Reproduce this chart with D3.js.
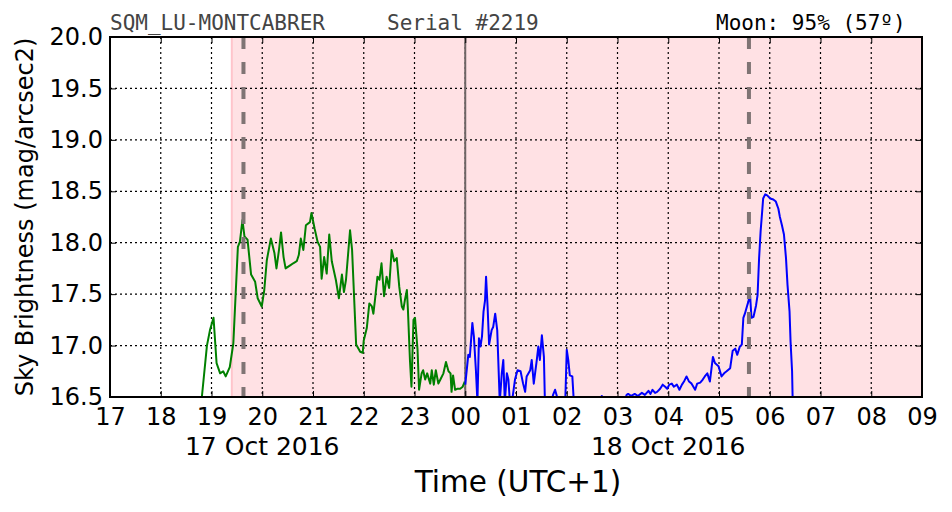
<!DOCTYPE html>
<html>
<head>
<meta charset="utf-8">
<script src="https://cdn.jsdelivr.net/npm/d3@7"></script>
<style>
  body { margin: 0; background: #fff; }
  svg { display: block; font-family: "DejaVu Sans", sans-serif; }
</style>
</head>
<body>
<div id="chart"></div>
<script>
// time is hours since 00:00 on 17 Oct 2016 (so 24.5 = 00:30 on 18 Oct)
var greenTime = [18.81, 18.91, 18.97, 19.04, 19.10, 19.17, 19.23, 19.28, 19.36, 19.43, 19.52, 19.56, 19.61, 19.65, 19.71, 19.78, 19.86, 19.91, 19.99,
  20.04, 20.09, 20.12, 20.17, 20.24, 20.28, 20.33, 20.37, 20.42, 20.46, 20.55, 20.61, 20.68, 20.72, 20.76, 20.81, 20.86, 20.94, 20.97,
  21.03, 21.09, 21.14, 21.17, 21.22, 21.27, 21.32, 21.37, 21.45, 21.51, 21.57, 21.61, 21.65, 21.73, 21.77, 21.85, 21.93, 21.98,
  22.00, 22.06, 22.11, 22.16, 22.19, 22.22, 22.27, 22.31, 22.35, 22.40, 22.45, 22.50, 22.55, 22.60, 22.65, 22.70, 22.75, 22.78, 22.81, 22.85, 22.87, 22.91, 22.94, 22.98,
  23.01, 23.06, 23.09, 23.14, 23.17, 23.21, 23.25, 23.31, 23.34, 23.38, 23.42, 23.47, 23.52, 23.57, 23.62, 23.67, 23.71, 23.73, 23.76, 23.80, 23.84, 23.90, 23.95, 23.99];
var greenMag = [16.50, 17.00, 17.15, 17.27, 16.83, 16.73, 16.75, 16.70, 16.79, 17.02, 17.96, 18.01, 18.22, 18.06, 18.03, 17.69, 17.62, 17.46, 17.38,
  17.54, 17.83, 17.91, 18.04, 17.90, 17.75, 17.93, 18.10, 17.86, 17.75, 17.78, 17.80, 17.82, 17.88, 18.04, 17.93, 18.17, 18.20, 18.29,
  18.14, 18.01, 17.96, 17.65, 17.86, 17.70, 18.08, 17.82, 17.64, 17.46, 17.69, 17.52, 17.64, 18.12, 17.93, 17.01, 16.94, 16.93,
  17.05, 17.17, 17.41, 17.38, 17.31, 17.44, 17.67, 17.64, 17.80, 17.48, 17.67, 17.56, 17.93, 17.82, 17.85, 17.57, 17.38, 17.35, 17.44, 17.54, 17.35, 16.86, 16.60, 17.25,
  17.27, 16.96, 16.57, 16.73, 16.76, 16.67, 16.73, 16.63, 16.76, 16.62, 16.76, 16.63, 16.68, 16.73, 16.84, 16.75, 16.73, 16.55, 16.71, 16.57, 16.58, 16.58, 16.60, 16.65];

var blueTime = [24.00, 24.06, 24.09, 24.14, 24.17, 24.21, 24.24, 24.27, 24.30, 24.33, 24.36, 24.39, 24.41, 24.44, 24.47, 24.52, 24.55, 24.59, 24.63,
  24.68, 24.72, 24.75, 24.78, 24.82, 24.85, 24.88, 24.92, 24.98, 25.03, 25.09, 25.14, 25.18, 25.21, 25.28, 25.31, 25.35, 25.41, 25.44, 25.47, 25.51, 25.55, 25.57,
  25.67, 25.73, 25.77, 25.81, 25.87, 25.97, 26.00, 26.03, 26.06, 26.11, 26.14, 26.36, 26.62, 26.69, 26.75, 26.95,
  27.15, 27.18, 27.21, 27.27, 27.34, 27.40, 27.48, 27.54, 27.61, 27.65, 27.69, 27.74, 27.78, 27.84, 27.89, 27.94, 27.98,
  28.02, 28.07, 28.11, 28.17, 28.22, 28.27, 28.31, 28.36, 28.41, 28.46, 28.53, 28.57, 28.63, 28.68, 28.72, 28.77, 28.82, 28.88, 28.92, 28.99,
  29.05, 29.10, 29.15, 29.22, 29.27, 29.32, 29.36, 29.41, 29.45, 29.48, 29.51, 29.55, 29.58, 29.61, 29.64, 29.68, 29.73, 29.76, 29.79, 29.82, 29.85, 29.87, 29.91, 29.95,
  30.01, 30.07, 30.12, 30.17, 30.20, 30.24, 30.28, 30.32, 30.35, 30.39, 30.41, 30.44, 30.45, 30.47];
var blueMag = [16.62, 16.91, 16.89, 17.22, 17.09, 16.76, 16.45, 17.07, 16.99, 17.09, 17.33, 17.44, 17.67, 17.38, 17.01, 17.15, 17.18, 17.31, 17.15,
  16.45, 16.73, 16.86, 16.45, 16.73, 16.67, 16.45, 16.45, 16.67, 16.76, 16.75, 16.63, 16.55, 16.70, 16.76, 16.86, 16.63, 16.86, 16.99, 16.86, 17.10, 16.89, 16.45,
  16.40, 16.52, 16.57, 16.50, 16.40, 16.45, 16.96, 16.86, 16.71, 16.70, 16.45, 16.35, 16.45, 16.51, 16.45, 16.40,
  16.48, 16.52, 16.53, 16.51, 16.53, 16.51, 16.54, 16.52, 16.56, 16.53, 16.57, 16.54, 16.55, 16.58, 16.62, 16.60, 16.58,
  16.62, 16.63, 16.60, 16.62, 16.57, 16.62, 16.65, 16.70, 16.65, 16.63, 16.57, 16.63, 16.64, 16.67, 16.70, 16.73, 16.65, 16.89, 16.83, 16.80,
  16.70, 16.73, 16.75, 16.78, 16.95, 16.97, 16.91, 16.99, 17.01, 17.27, 17.31, 17.38, 17.43, 17.51, 17.27, 17.28, 17.39, 17.49, 17.85, 18.11, 18.30, 18.43, 18.47, 18.46,
  18.43, 18.42, 18.40, 18.33, 18.25, 18.17, 18.08, 17.85, 17.59, 17.33, 17.04, 16.75, 16.51, 16.30];

var hourTicks = d3.range(17, 34);
var magTicks = [16.5, 17.0, 17.5, 18.0, 18.5, 19.0, 19.5, 20.0];
var dateLabels = [{ t: 20, label: "17 Oct 2016" }, { t: 28, label: "18 Oct 2016" }];
var nightStart = 19.40;          // start of shaded region
var moonLines = [19.63, 29.59];  // dashed markers
var midnight = 24;

var width = 952, height = 512;
var mLeft = 110, mRight = 922, mTop = 37, mBottom = 397;

var svg = d3.select("#chart").append("svg")
  .attr("width", width)
  .attr("height", height);

var x = d3.scaleLinear().domain([17, 33]).range([mLeft, mRight]);
var y = d3.scaleLinear().domain([16.5, 20]).range([mBottom, mTop]);

svg.append("clipPath").attr("id", "clip")
  .append("rect")
  .attr("x", mLeft).attr("y", mTop)
  .attr("width", mRight - mLeft).attr("height", mBottom - mTop);

// shaded night
svg.append("rect")
  .attr("x", x(nightStart))
  .attr("y", mTop)
  .attr("width", x(33) - x(nightStart))
  .attr("height", mBottom - mTop)
  .attr("fill", "#ffe1e4");
svg.append("line")
  .attr("x1", x(nightStart)).attr("x2", x(nightStart))
  .attr("y1", mTop).attr("y2", mBottom)
  .attr("stroke", "#ffc4cb")
  .attr("stroke-width", 2);

// grid
var grid = svg.append("g").attr("stroke", "#000").attr("stroke-width", 1.2).attr("stroke-dasharray", "2,3");
grid.selectAll(".gx").data(hourTicks.slice(1, -1)).enter().append("line")
  .attr("x1", function(d) { return x(d); })
  .attr("x2", function(d) { return x(d); })
  .attr("y1", mTop).attr("y2", mBottom);
grid.selectAll(".gy").data(magTicks.slice(1, -1)).enter().append("line")
  .attr("x1", mLeft).attr("x2", mRight)
  .attr("y1", function(d) { return y(d); })
  .attr("y2", function(d) { return y(d); });

// midnight
svg.append("line")
  .attr("x1", x(midnight)).attr("x2", x(midnight))
  .attr("y1", mTop).attr("y2", mBottom)
  .attr("stroke", "#6e6464")
  .attr("stroke-width", 2);

var line = d3.line()
  .x(function(d) { return x(d[0]); })
  .y(function(d) { return y(d[1]); });

var plot = svg.append("g").attr("clip-path", "url(#clip)");

plot.append("path")
  .datum(d3.zip(greenTime, greenMag))
  .attr("d", line)
  .attr("fill", "none")
  .attr("stroke", "#008000")
  .attr("stroke-width", 2)
  .attr("stroke-linejoin", "round");

plot.append("path")
  .datum(d3.zip(blueTime, blueMag))
  .attr("d", line)
  .attr("fill", "none")
  .attr("stroke", "#0000ff")
  .attr("stroke-width", 2)
  .attr("stroke-linejoin", "round");

plot.selectAll(".moon").data(moonLines).enter().append("line")
  .attr("x1", function(d) { return x(d); })
  .attr("x2", function(d) { return x(d); })
  .attr("y1", mTop).attr("y2", mBottom)
  .attr("stroke", "#7f7474")
  .attr("stroke-width", 4)
  .attr("stroke-dasharray", "12,13");

// axes
var pad2 = function(d) { return ("0" + (d % 24)).slice(-2); };

svg.append("g")
  .attr("transform", "translate(0," + mBottom + ")")
  .call(d3.axisBottom(x).tickValues(hourTicks).tickFormat(pad2).tickSizeInner(-6).tickSizeOuter(0).tickPadding(11));
svg.append("g")
  .attr("transform", "translate(0," + mTop + ")")
  .call(d3.axisTop(x).tickValues(hourTicks).tickFormat("").tickSizeInner(-6).tickSizeOuter(0));
svg.append("g")
  .attr("transform", "translate(" + mLeft + ",0)")
  .call(d3.axisLeft(y).tickValues(magTicks).tickFormat(d3.format(".1f")).tickSizeInner(-6).tickSizeOuter(0).tickPadding(7));
svg.append("g")
  .attr("transform", "translate(" + mRight + ",0)")
  .call(d3.axisRight(y).tickValues(magTicks).tickFormat("").tickSizeInner(-6).tickSizeOuter(0));

svg.selectAll(".domain").remove();
svg.selectAll(".tick line").attr("stroke", "#000").attr("stroke-width", 1);
svg.selectAll(".tick text").attr("font-size", 24).attr("font-family", "DejaVu Sans").attr("fill", "#000");

// frame
svg.append("rect")
  .attr("x", mLeft).attr("y", mTop)
  .attr("width", mRight - mLeft).attr("height", mBottom - mTop)
  .attr("fill", "none")
  .attr("stroke", "#000")
  .attr("stroke-width", 2);

// date labels
svg.selectAll(".date").data(dateLabels).enter().append("text")
  .attr("x", function(d) { return x(d.t); })
  .attr("y", 455)
  .attr("text-anchor", "middle")
  .attr("font-size", 25)
  .text(function(d) { return d.label; });

// axis titles
svg.append("text")
  .attr("x", 518)
  .attr("y", 492)
  .attr("text-anchor", "middle")
  .attr("font-size", 29.5)
  .text("Time (UTC+1)");

svg.append("text")
  .attr("transform", "translate(33," + (mTop + mBottom) / 2 + ") rotate(-90)")
  .attr("text-anchor", "middle")
  .attr("font-size", 24)
  .text("Sky Brightness (mag/arcsec2)");

// header
var mono = "'DejaVu Sans Mono', monospace";
svg.append("text").attr("x", 110).attr("y", 30).style("font-family", mono).attr("font-size", 21)
  .attr("fill", "#444").text("SQM_LU-MONTCABRER");
svg.append("text").attr("x", 387).attr("y", 30).style("font-family", mono).attr("font-size", 21)
  .attr("fill", "#444").text("Serial #2219");
svg.append("text").attr("x", 716).attr("y", 30).style("font-family", mono).attr("font-size", 21)
  .attr("fill", "#000").text("Moon: 95% (57º)");
</script>
</body>
</html>
